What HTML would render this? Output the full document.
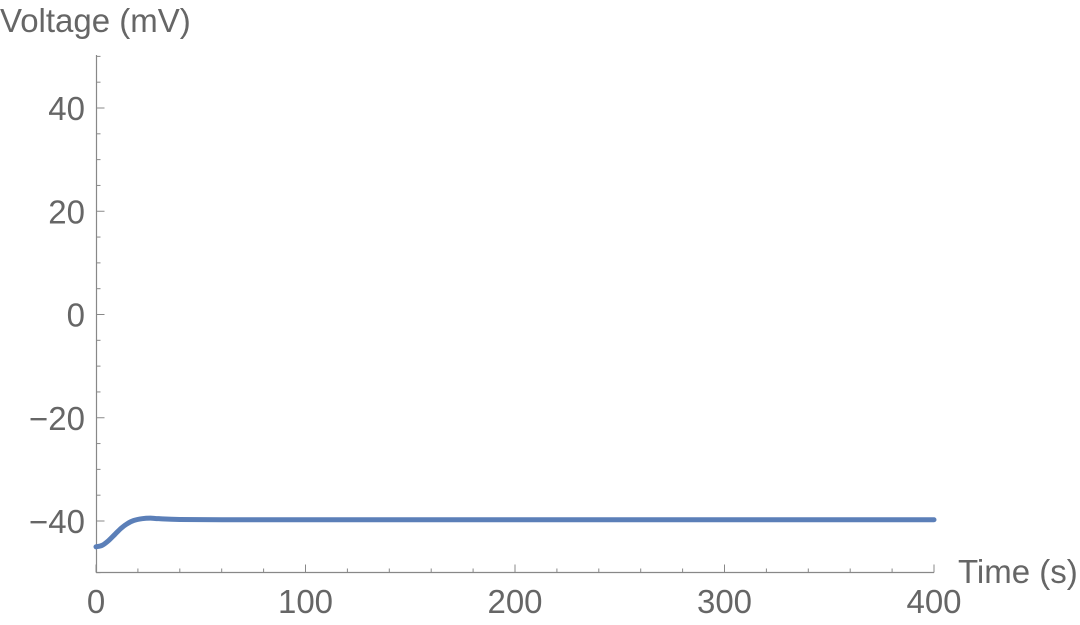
<!DOCTYPE html>
<html><head><meta charset="utf-8"><style>
body{margin:0;background:#fff;}
svg text{font-family:"Liberation Sans",sans-serif;fill:#666;}
</style></head><body>
<svg width="1080" height="620">
<g id="axes"></g>
<path id="line" fill="none" stroke="#5b7fb8" stroke-width="5" stroke-linejoin="round" stroke-linecap="round"/>
<text x="0" y="32" font-size="33">Voltage (mV)</text>
<text x="958" y="583" font-size="33">Time (s)</text>
</svg>
<script>
const times=[0,3,6,9,12,15,18,22,26,30,40,60,100,400];
const volts=[-45,-44.7,-43.8,-42.6,-41.4,-40.5,-39.9,-39.55,-39.45,-39.55,-39.7,-39.75,-39.75,-39.75];
const xTicks=[0,100,200,300,400];
const yTicks=[-40,-20,0,20,40];
const X=t=>96+t*(934-96)/400;
const Y=v=>314.5-v*5.1625;
const NS="http://www.w3.org/2000/svg";
const g=document.getElementById('axes');
function mk(tag,attrs,parent){const e=document.createElementNS(NS,tag);for(const k in attrs)e.setAttribute(k,attrs[k]);(parent||g).appendChild(e);return e;}
const xa=mk('line',{x1:96,x2:934,y1:572.5,y2:572.5,stroke:'#888','stroke-width':1.2});


const ya=mk('line',{x1:96.5,x2:96.5,y1:55,y2:572.5,stroke:'#888','stroke-width':1.2});


for(let t=0;t<=400;t+=20){const major=t%100===0;mk('line',{x1:X(t),x2:X(t),y1:572.5,y2:572.5-(major?8:4),stroke:'#888'});}
for(let v=-50;v<=50;v+=5){const major=v%20===0;mk('line',{x1:96.5,x2:96.5+(major?8:4),y1:Y(v),y2:Y(v),stroke:'#888'});}
xTicks.forEach(t=>{const e=mk('text',{x:X(t),y:613,'font-size':33,'text-anchor':'middle'});e.textContent=t;

});
yTicks.forEach(v=>{const e=mk('text',{x:85,y:Y(v)+12,'font-size':33,'text-anchor':'end'});e.textContent=v<0?'\u2212'+(-v):v;

});
const pts=times.map((t,i)=>[X(t),Y(volts[i])]);
let d='M'+pts[0][0]+','+pts[0][1];
for(let i=0;i<pts.length-1;i++){const p0=pts[i-1]||pts[i],p1=pts[i],p2=pts[i+1],p3=pts[i+2]||p2;
d+=` C${p1[0]+(p2[0]-p0[0])/6},${p1[1]+(p2[1]-p0[1])/6} ${p2[0]-(p3[0]-p1[0])/6},${p2[1]-(p3[1]-p1[1])/6} ${p2[0]},${p2[1]}`;}
document.getElementById('line').setAttribute('d',d);
</script>
</body></html>
